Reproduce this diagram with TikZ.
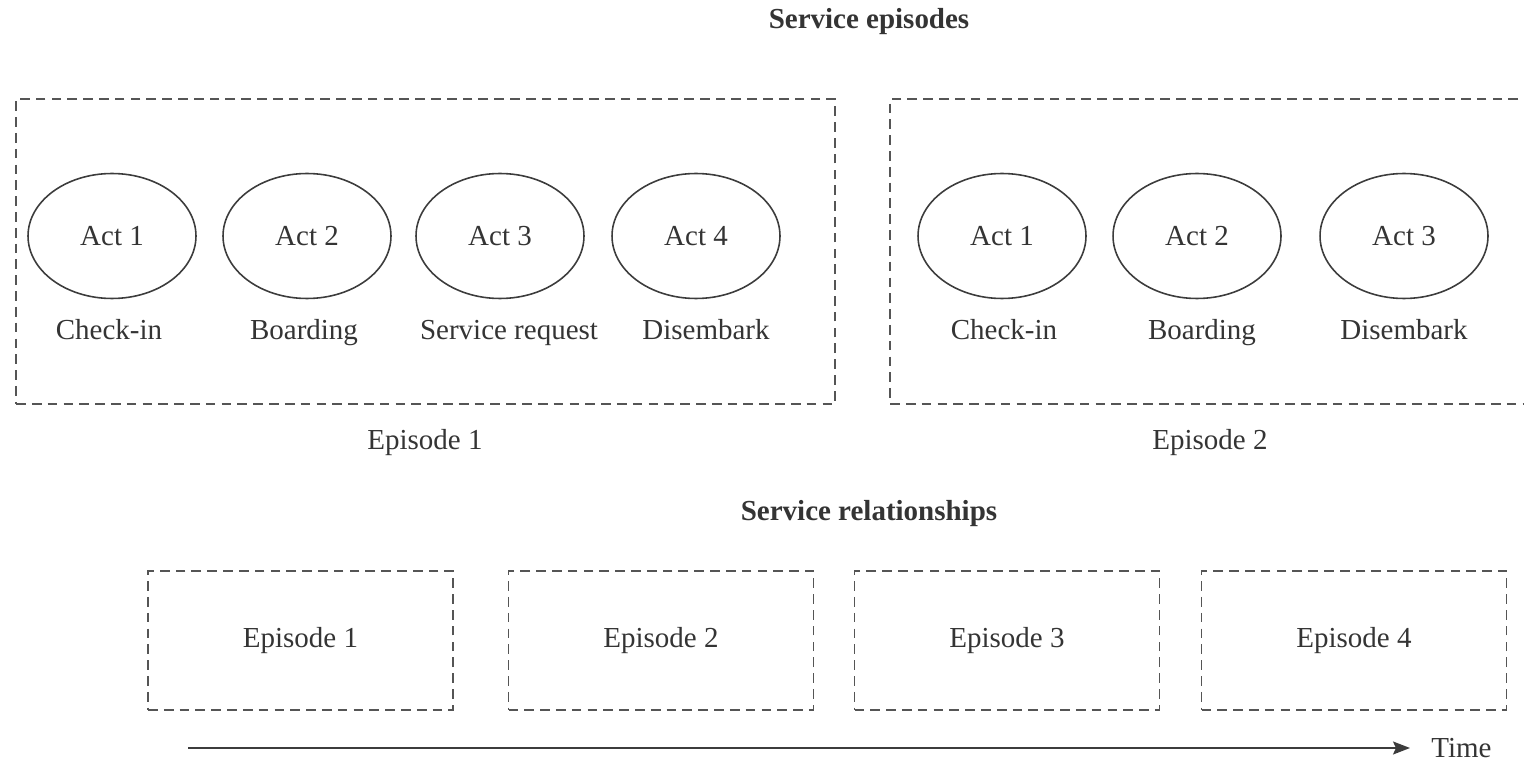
\documentclass[tikz,border=0pt]{standalone}
\usepackage{fontspec}
\setmainfont{Liberation Serif}
\usepackage{xcolor}
\usetikzlibrary{arrows.meta, positioning, shapes.geometric}
\definecolor{textGray}{RGB}{52,52,52}
\definecolor{lineGray}{RGB}{85,85,85}
\definecolor{ovalGray}{RGB}{60,60,60}

\begin{document}
\begin{tikzpicture}[
    x=0.02cm, y=-0.02cm,
    every node/.style={text=textGray, font=\fontsize{16.5}{19}\selectfont},
    heading/.style={inner sep=0pt, anchor=base, font=\fontsize{16.5}{19}\selectfont\bfseries},
    frame/.style={draw=lineGray, line width=0.8pt, dash pattern=on 5.5pt off 3.5pt, inner sep=0pt},
    act/.style={draw=ovalGray, line width=0.9pt, ellipse, inner sep=0pt, minimum width=3.36cm, minimum height=2.5cm},
    caption/.style={inner sep=0pt, anchor=base},
    timearrow/.style={-{Stealth[length=3.4mm, width=2.6mm, inset=0.6mm]}, line width=1pt, draw=ovalGray}
]
    \useasboundingbox (0,0) rectangle (1524,763);

    % service episodes
    \node[heading] (epstitle) at (869,29) {Service episodes};
    \node[frame, minimum width=16.38cm, minimum height=6.1cm] (ep1) at (425.5,251.5) {};
    \node[frame, minimum width=12.72cm, minimum height=6.1cm] (ep2) at (1208,251.5) {};

    \node[act] (a11) at (112,236) {Act 1};
    \node[act] (a12) at (307,236) {Act 2};
    \node[act] (a13) at (500,236) {Act 3};
    \node[act] (a14) at (696,236) {Act 4};
    \node[caption] (c11) at (109,339) {Check-in};
    \node[caption] (c12) at (304,339) {Boarding};
    \node[caption] (c13) at (509,339) {Service request};
    \node[caption] (c14) at (706,339) {Disembark};

    \node[act] (a21) at (1002,236) {Act 1};
    \node[act] (a22) at (1197,236) {Act 2};
    \node[act] (a23) at (1404,236) {Act 3};
    \node[caption] (c21) at (1004,339) {Check-in};
    \node[caption] (c22) at (1202,339) {Boarding};
    \node[caption] (c23) at (1404,339) {Disembark};

    \node[caption] (ep1name) at (425,449) {Episode 1};
    \node[caption] (ep2name) at (1210,449) {Episode 2};

    % service relationships
    \node[heading] (reltitle) at (869,520) {Service relationships};
    \node[frame, minimum width=6.1cm, minimum height=2.78cm] (r1) at (300.5,640.5) {Episode 1};
    \node[frame, minimum width=6.1cm, minimum height=2.78cm] (r2) at (661,640.5) {Episode 2};
    \node[frame, minimum width=6.1cm, minimum height=2.78cm] (r3) at (1007,640.5) {Episode 3};
    \node[frame, minimum width=6.1cm, minimum height=2.78cm] (r4) at (1354,640.5) {Episode 4};

    % time axis
    \coordinate (t0) at (188,748);
    \coordinate (t1) at (1410,748);
    \node[caption, anchor=base west] (time) at (1431,757) {Time};
    \draw[timearrow] (t0) -- (t1);
\end{tikzpicture}
\end{document}
